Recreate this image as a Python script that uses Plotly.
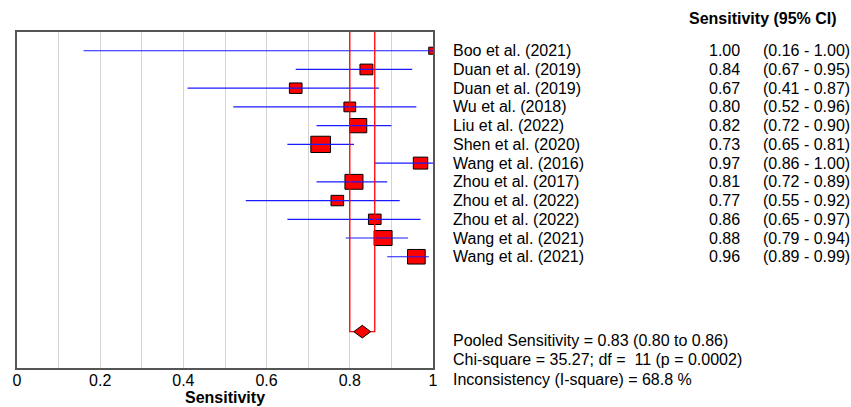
import math
import plotly.graph_objects as go

# ---- data -------------------------------------------------------------
studies = [
    "Boo et al. (2021)", "Duan et al. (2019)", "Duan et al. (2019)",
    "Wu et al. (2018)", "Liu et al. (2022)", "Shen et al. (2020)",
    "Wang et al. (2016)", "Zhou et al. (2017)", "Zhou et al. (2022)",
    "Zhou et al. (2022)", "Wang et al. (2021)", "Wang et al. (2021)",
]
sens = [1.00, 0.84, 0.67, 0.80, 0.82, 0.73, 0.97, 0.81, 0.77, 0.86, 0.88, 0.96]
ci_low = [0.16, 0.67, 0.41, 0.52, 0.72, 0.65, 0.86, 0.72, 0.55, 0.65, 0.79, 0.89]
ci_high = [1.00, 0.95, 0.87, 0.96, 0.90, 0.81, 1.00, 0.89, 0.92, 0.97, 0.94, 0.99]
weights = [2.7, 6.2, 5.9, 5.1, 11.0, 14.3, 7.7, 12.0, 5.9, 5.9, 12.0, 11.5]

pooled, pooled_low, pooled_high = 0.83, 0.80, 0.86
stats_lines = [
    "Pooled Sensitivity = 0.83 (0.80 to 0.86)",
    "Chi-square = 35.27; df =\u00a0 11 (p = 0.0002)",
    "Inconsistency (I-square) = 68.8 %",
]
tick_vals = [0, 0.2, 0.4, 0.6, 0.8, 1.0]
tick_text = ["0", "0.2", "0.4", "0.6", "0.8", "1"]

# ---- geometry ---------------------------------------------------------
W, H = 851, 407
ML, MR, MT, MB = 17, 418, 32, 39
PW, PH = W - ML - MR, H - MT - MB
Y_TOP, Y_BOT = -1.0, 16.94          # row units (reversed axis)
ROW_PX = PH / (Y_BOT - Y_TOP)
POOLED_ROW = 15

FONT = "Liberation Sans, Arial, sans-serif"


def px_x(px):
    """absolute pixel x -> paper x"""
    return (px - ML) / PW


def px_y(py):
    """absolute pixel y -> paper y"""
    return (H - MB - py) / PH


rows = list(range(len(studies)))
fig = go.Figure()

# study weight boxes (between grid and traces)
for r, s, w in zip(rows, sens, weights):
    h_px = 4.3 * math.sqrt(w)
    hw = 1.21 * h_px / 2 / PW
    hh = h_px / 2 / ROW_PX
    fig.add_shape(type="rect", xref="x", yref="y",
                  x0=s - hw, x1=s + hw, y0=r - hh, y1=r + hh,
                  fillcolor="#ff0000", line=dict(color="black", width=1),
                  layer="between")

# confidence interval whiskers
cx, cy = [], []
for r, lo, hi in zip(rows, ci_low, ci_high):
    cx += [lo, hi, None]
    cy += [r, r, None]
fig.add_trace(go.Scatter(x=cx, y=cy, mode="lines",
                         line=dict(color="#1a1aff", width=1.2),
                         hoverinfo="skip", showlegend=False))

# pooled CI bracket
fig.add_trace(go.Scatter(
    x=[pooled_low, pooled_low, pooled_high, pooled_high],
    y=[Y_TOP, POOLED_ROW, POOLED_ROW, Y_TOP],
    mode="lines", line=dict(color="#ff0000", width=1.3),
    hoverinfo="skip", showlegend=False, cliponaxis=True))

# pooled diamond
dw = 8.5 / PW
dh = 6.3 / ROW_PX
fig.add_trace(go.Scatter(
    x=[pooled - dw, pooled, pooled + dw, pooled, pooled - dw],
    y=[POOLED_ROW, POOLED_ROW - dh, POOLED_ROW, POOLED_ROW + dh, POOLED_ROW],
    mode="lines", fill="toself", fillcolor="#ff0000",
    line=dict(color="black", width=1),
    hoverinfo="skip", showlegend=False))

# ---- text columns -----------------------------------------------------
txt = dict(family=FONT, size=16, color="black")
for r, name, s, lo, hi in zip(rows, studies, sens, ci_low, ci_high):
    fig.add_annotation(xref="paper", yref="y", x=px_x(451), y=r,
                       text=name, showarrow=False, xanchor="left",
                       yanchor="middle", font=txt)
    fig.add_annotation(xref="paper", yref="y", x=px_x(742), y=r,
                       text=f"{s:.2f}", showarrow=False, xanchor="right",
                       yanchor="middle", font=txt)
    fig.add_annotation(xref="paper", yref="y", x=px_x(761), y=r,
                       text=f"({lo:.2f} - {hi:.2f})", showarrow=False,
                       xanchor="left", yanchor="middle", font=txt)

fig.add_annotation(xref="paper", yref="paper", x=px_x(839), y=px_y(19),
                   text="<b>Sensitivity (95% CI)</b>", showarrow=False,
                   xanchor="right", yanchor="middle", font=txt)

for i, line in enumerate(stats_lines):
    fig.add_annotation(xref="paper", yref="paper", x=px_x(451),
                       y=px_y(340.5 + 19.3 * i), text=line, showarrow=False,
                       xanchor="left", yanchor="middle", font=txt)

# axis title drawn as an annotation so the plot area keeps its size
fig.add_annotation(xref="paper", yref="paper", x=0.5, y=px_y(398),
                   text="<b>Sensitivity</b>", showarrow=False,
                   xanchor="center", yanchor="middle", font=txt)

# ---- axes & layout ----------------------------------------------------
fig.update_xaxes(
    range=[0, 1], tickvals=tick_vals, ticktext=tick_text,
    showgrid=True, gridcolor="#d4d4d4", gridwidth=1,
    minor=dict(dtick=0.1, tick0=0, showgrid=True, gridcolor="#d4d4d4",
               gridwidth=1),
    showline=True, linecolor="#555555", linewidth=1.5, mirror=True,
    ticks="", zeroline=False, automargin=False, ticklabelstandoff=-3,
    tickfont=dict(family=FONT, size=16, color="black"),
)
fig.update_yaxes(
    range=[Y_BOT, Y_TOP], showgrid=False, zeroline=False,
    showticklabels=False, ticks="", automargin=False,
    showline=True, linecolor="#555555", linewidth=1.5, mirror=True,
)
fig.update_layout(
    width=W, height=H,
    margin=dict(l=ML, r=MR, t=MT, b=MB, pad=0, autoexpand=False),
    paper_bgcolor="white", plot_bgcolor="white",
    showlegend=False,
)

fig.write_html("out.html")
